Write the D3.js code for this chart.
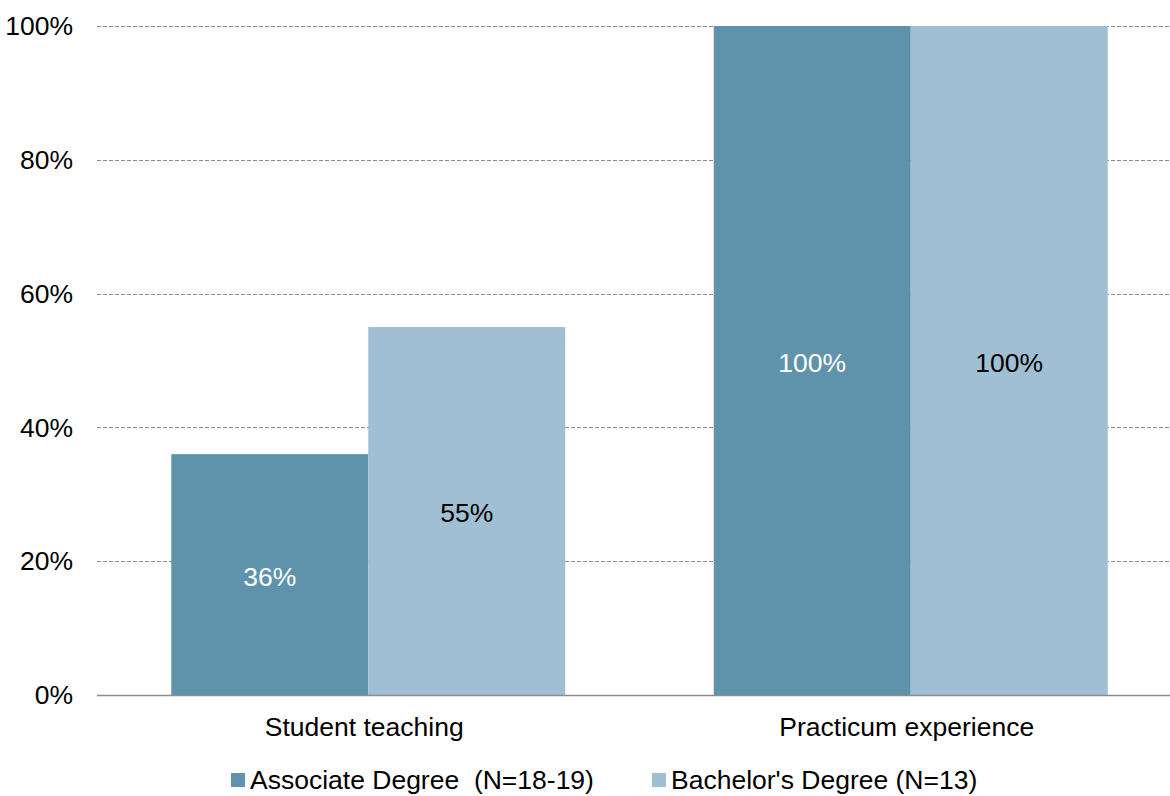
<!DOCTYPE html>
<html>
<head>
<meta charset="utf-8">
<script src="https://cdn.jsdelivr.net/npm/d3@7"></script>
<style>
  html, body { margin: 0; padding: 0; background: #fff; }
  svg { display: block; font-family: "Liberation Sans", Arial, sans-serif; }
</style>
</head>
<body>
<svg id="chart" width="1170" height="796"></svg>
<script>
// Share of programs offering each field experience, by degree level
const categories = ["Student teaching", "Practicum experience"];
const seriesNames = ["Associate Degree  (N=18-19)", "Bachelor's Degree (N=13)"];
const associateValues = [36, 100];
const bachelorValues = [55, 100];
const yTicks = [0, 20, 40, 60, 80, 100];

const colors = ["#5f93ac", "#a0bfd2"];
const labelColors = ["#ffffff", "#000000"];
const fontSize = 26.5;

const svg = d3.select("#chart");
const margin = { left: 97, top: 26, bottom: 101 };
const plotW = 1085;
const plotH = 796 - margin.top - margin.bottom;

const x0 = d3.scaleBand()
  .domain(categories)
  .range([margin.left, margin.left + plotW])
  .paddingInner(0.2737)
  .paddingOuter(0.1369);

const x1 = d3.scaleBand()
  .domain([0, 1])
  .range([0, x0.bandwidth()]);

const y = d3.scaleLinear().domain([0, 100]).range([margin.top + plotH, margin.top]);

// Dashed horizontal gridlines
svg.append("g")
  .selectAll("line")
  .data(yTicks.filter(t => t > 0))
  .join("line")
  .attr("x1", margin.left)
  .attr("x2", 1170)
  .attr("y1", d => Math.round(y(d)) + 0.5)
  .attr("y2", d => Math.round(y(d)) + 0.5)
  .attr("stroke", "#8c8c8c")
  .attr("stroke-width", 1)
  .attr("stroke-dasharray", "4,2");

// Y axis tick labels
svg.append("g")
  .selectAll("text")
  .data(yTicks)
  .join("text")
  .attr("x", 73)
  .attr("y", d => y(d))
  .attr("dy", "0.35em")
  .attr("text-anchor", "end")
  .attr("font-size", fontSize)
  .attr("fill", "#000")
  .text(d => d + "%");

// Bars
const rows = categories.map((c, i) => ({
  category: c,
  values: [associateValues[i], bachelorValues[i]]
}));

const groups = svg.append("g")
  .selectAll("g")
  .data(rows)
  .join("g")
  .attr("transform", d => `translate(${x0(d.category)},0)`);

groups.selectAll("rect")
  .data(d => d.values.map((v, s) => ({ v, s })))
  .join("rect")
  .attr("x", d => x1(d.s))
  .attr("width", x1.bandwidth())
  .attr("y", d => y(d.v))
  .attr("height", d => y(0) - y(d.v))
  .attr("fill", d => colors[d.s]);

// Value labels centred in each bar
groups.selectAll("text")
  .data(d => d.values.map((v, s) => ({ v, s })))
  .join("text")
  .attr("x", d => x1(d.s) + x1.bandwidth() / 2)
  .attr("y", d => (y(d.v) + y(0)) / 2 + 2)
  .attr("dy", "0.35em")
  .attr("text-anchor", "middle")
  .attr("font-size", fontSize)
  .attr("fill", d => labelColors[d.s])
  .text(d => d.v + "%");

// Baseline
svg.append("line")
  .attr("x1", margin.left)
  .attr("x2", 1170)
  .attr("y1", Math.round(y(0)) + 0.5)
  .attr("y2", Math.round(y(0)) + 0.5)
  .attr("stroke", "#8c8c8c")
  .attr("stroke-width", 1.5);

// Category labels
svg.append("g")
  .selectAll("text")
  .data(categories)
  .join("text")
  .attr("x", d => x0(d) + x0.bandwidth() / 2 - 4)
  .attr("y", 727)
  .attr("dy", "0.35em")
  .attr("text-anchor", "middle")
  .attr("font-size", fontSize)
  .attr("fill", "#000")
  .text(d => d);

// Legend
const legendX = [231, 652];
const legend = svg.append("g")
  .selectAll("g")
  .data(seriesNames)
  .join("g")
  .attr("transform", (d, i) => `translate(${legendX[i]},780)`);

legend.append("rect")
  .attr("x", 0)
  .attr("y", -7)
  .attr("width", 14)
  .attr("height", 14)
  .attr("fill", (d, i) => colors[i]);

legend.append("text")
  .attr("x", 19)
  .attr("y", 0)
  .attr("dy", "0.35em")
  .attr("font-size", fontSize)
  .attr("fill", "#000")
  .attr("xml:space", "preserve")
  .style("white-space", "pre")
  .text(d => d);
</script>
</body>
</html>
